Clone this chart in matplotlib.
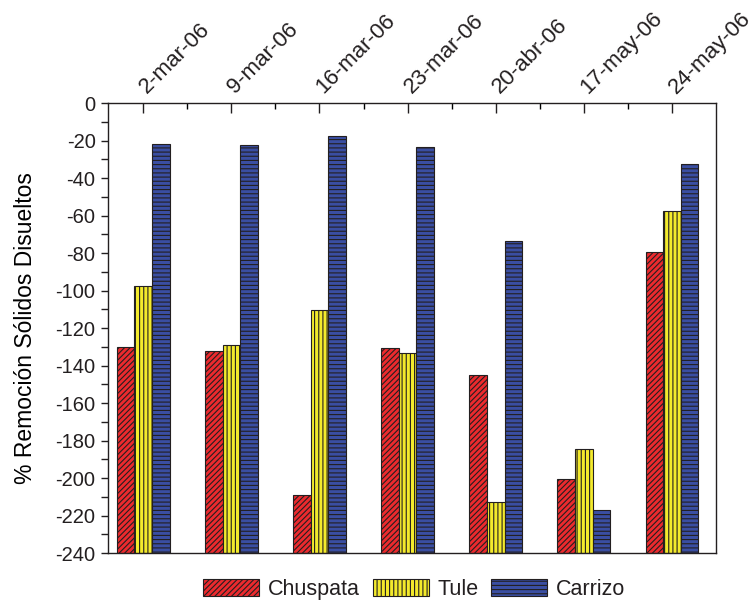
import numpy as np
import matplotlib.pyplot as plt
from matplotlib.ticker import MultipleLocator

plt.rcParams['font.family'] = ['Liberation Sans', 'DejaVu Sans']
plt.rcParams['hatch.linewidth'] = 0.8
plt.rcParams['text.color'] = '#231f20'
plt.rcParams['axes.unicode_minus'] = False

# Fechas de muestreo y % de remoción por humedal
fechas = ['2-mar-06', '9-mar-06', '16-mar-06', '23-mar-06',
          '20-abr-06', '17-may-06', '24-may-06']
chuspata = [-130.3, -132.4, -209.2, -130.5, -145.2, -200.5, -79.6]
tule = [-97.6, -129.2, -110.6, -133.3, -212.6, -184.7, -57.8]
carrizo = [-21.9, -22.4, -17.8, -23.5, -73.4, -217.2, -32.5]

base = -240
x = np.arange(len(fechas))
w = 0.2

fig = plt.figure(figsize=(7.49, 6), dpi=100)
ax = fig.add_axes([0.1442, 0.0783, 0.8118, 0.75])

series = [
    (chuspata, 'Chuspata', '#ec2a2e', '//////', -w),
    (tule, 'Tule', '#f3ea2c', '||||', 0),
    (carrizo, 'Carrizo', '#3a4ea2', '----', w),
]
for vals, name, color, hatch, off in series:
    vals = np.array(vals)
    ax.bar(x + off, vals - base, bottom=base, width=w, color=color,
           edgecolor='#231f20', linewidth=0.8, hatch=hatch, label=name)

ax.set_ylim(-240, 0)
ax.set_xlim(-0.4, 6.5)
ax.yaxis.set_major_locator(MultipleLocator(20))
ax.yaxis.set_minor_locator(MultipleLocator(10))
ax.tick_params(axis='y', which='both', direction='out', length=5, width=1,
               labelsize=14.5, colors='#231f20', pad=4)

# Fechas arriba, rotadas
ax.xaxis.tick_top()
ax.set_xticks(x)
ax.set_xticks(x[:-1] + 0.5, minor=True)
ax.set_xticklabels(fechas, rotation=45, ha='left', va='center',
                   rotation_mode='anchor', fontsize=16)
ax.tick_params(axis='x', which='major', direction='in', length=7, width=1,
               pad=9, colors='#231f20')
ax.tick_params(axis='x', which='minor', direction='in', length=4, width=1)
for s in ax.spines.values():
    s.set_linewidth(1.0)
    s.set_color('#231f20')

ax.set_ylabel('% Remoción Sólidos Disueltos', fontsize=16.5, labelpad=13)

fig.legend(loc='center', bbox_to_anchor=(0.553, 0.0183), ncol=3,
           frameon=False, fontsize=15.5, handlelength=2.6, handleheight=0.85,
           handletextpad=0.4, columnspacing=0.6, borderpad=0)

fig.savefig('out.png', dpi=100)
